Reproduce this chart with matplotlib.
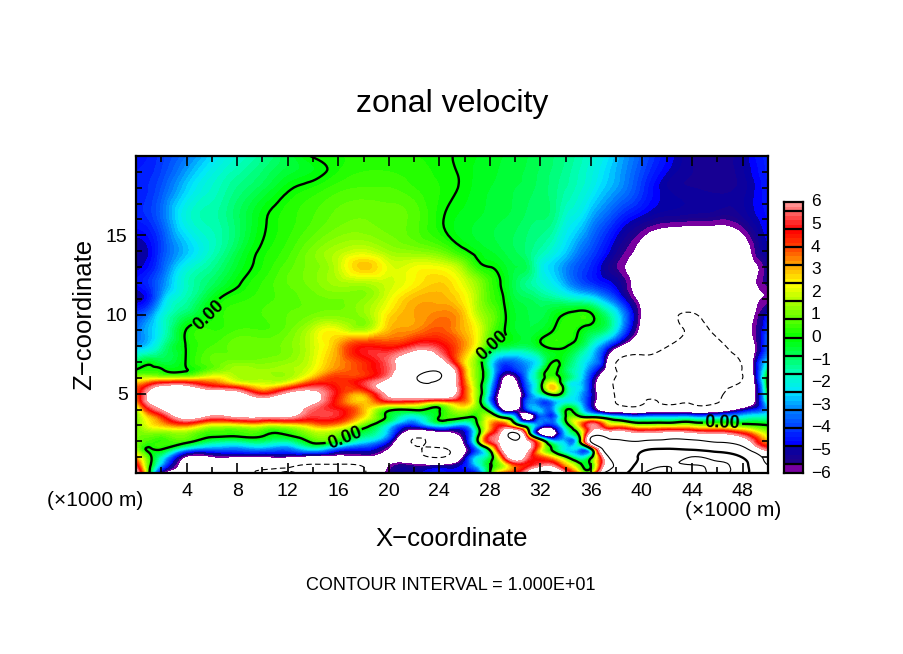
import matplotlib
matplotlib.use('Agg')
import matplotlib.pyplot as plt
import matplotlib.tri as mtri
from matplotlib.colors import LinearSegmentedColormap
import numpy as np

plt.rcParams['font.family'] = ['Liberation Sans', 'DejaVu Sans']

# x in km, z in km (grid is finer where the picture has fine detail)
x_km = [0, 1, 2, 4, 6, 8, 10, 12, 14, 16, 18, 20, 22, 24, 26, 27, 28, 29, 30, 31, 32, 33, 34, 35, 36, 37, 38, 40, 42, 44, 46, 48, 49, 50]
z_km = [0, .5, 1, 1.5, 2, 2.5, 3, 3.5, 4, 4.5, 5, 5.5, 6, 6.5, 7, 8, 9, 10, 11, 12, 13, 14, 16, 18, 19, 20]

# zonal velocity, one row per z, bottom to top
u = [
    [7, .5, -6, -7, -8, -9, -10.2, -9.8, -11, -11, -10.4, -5.5, -5, -4.5, -5, -4.5, 0, 3.5, 4.5, 7, 11, 10.2, 6, 3, 1.5, 10, 14, 29, 31, 27, 32, 23, 18, 13],
    [5, .6, -3, -6.6, -6.8, -8.5, -9, -9.5, -10.3, -10.3, -9.5, -6.1, -5.8, -6, -4.5, -2.5, -.2, 1.5, 4, 4.5, 5.5, 5.5, 3, .8, .15, 6, 11, 24, 29.5, 29.8, 31, 24, 15, 10],
    [3, .5, -1.7, -6.2, -6.1, -6.1, -6.1, -6.1, -6.8, -6.8, -6.5, -6.6, -8.5, -10.2, -5.5, -2.5, -.8, 4, 7.5, 5.5, 4, 2.5, .3, -2, -.4, 6.5, 14, 21, 25, 30.3, 27, 19.5, 13, 7.5],
    [1.5, -.1, .05, -2.8, -3.6, -3.6, -3.3, -3.6, -2.3, -4, -4.5, -6.2, -9.4, -10.5, -6.5, -3.5, .5, 6.5, 7.5, 6.5, 2.5, -.3, -2.4, -3, -.6, 11, 16, 18.5, 20.5, 19, 16, 12, 7.5, 5.5],
    [1.1, .5, .4, .4, -1, -1.3, -1, -1.4, .4, -.2, -2.3, -4.7, -10.3, -8.8, -5.6, -.3, 5, 6.8, 9.5, 6.5, 2, -2.5, -3, -1.2, 10.5, 12.5, 11, 10.3, 11.5, 10.8, 9.6, 7.5, 5, 3],
    [1, 1.1, 1, 1.2, .4, .4, .3, .2, 1.4, 1, -.8, -3.1, -8, -7, -5, -1, 4, 7, 10.6, 1.8, -7, -7.5, -2.5, .2, 7, 8, 7.5, 6.2, 7, 6.5, 6, 4.5, 3, 1.5],
    [.9, 2.2, 2.8, 3.5, 1.9, 1.9, 2, 2, 3, 3, .7, -2.2, -4.5, -2.2, -3.2, -.2, 3, 4.5, 1.5, -1.5, -4, -4.5, -1, 2.5, 5.8, 4, 2.8, 1.3, 1.5, 1.6, 1.3, .6, .3, .05],
    [1, 2.7, 4, 6.8, 5.5, 6, 6, 6, 5, 4.8, 2.5, -.4, -2.4, .1, .1, .3, 2, 0, -2.8, -7.5, -3.8, -4, .05, .8, .3, -.5, -1.8, -2.8, -2.6, -2.6, -2.5, -2.1, -1.7, -1.6],
    [1.2, 4.5, 6, 8, 6.5, 7, 7.2, 7, 5.5, 4.8, 3, .3, .2, -.05, 1.8, .8, -1, -6.2, -6.6, -4, -2.8, -3.2, -.1, -1.4, -4.5, -7.5, -8.3, -8.5, -8.3, -8.3, -7.9, -5.5, -4.5, -3],
    [3, 6.2, 6.8, 8, 8, 7.5, 7, 7.5, 6.5, 4.2, 2.8, 4.5, 4.2, 3, 3.5, 1, -3.3, -7.5, -8, -3.5, -3.8, -3.2, -2.2, -2.6, -5, -8, -10.1, -10.2, -10.2, -10.2, -10.1, -8, -6, -1.5],
    [3.5, 6.3, 7.2, 7.5, 7.5, 7, 4.6, 6.5, 6.5, 4.5, 3.3, 6.5, 8.5, 9, 4, 1.2, -3, -7.5, -8, -4, -1.5, .8, -1.2, -2.6, -4.8, -7.8, -10.3, -10.8, -11, -11, -10.6, -7.5, -6, -.5],
    [3.5, 4.8, 6.1, 6.2, 4.6, 3.5, 2.3, 3.2, 5, 4.4, 5, 7, 9, 9.4, 3.9, 1, -2.5, -6.6, -7, -3.5, -.5, 2.8, -1.2, -2.4, -4.8, -8, -10.5, -11, -11.5, -11.5, -11, -9, -6, .1],
    [1.5, 1.8, 1.7, 1.8, 2.5, 1.6, 1.5, 1.5, 3, 4.2, 4.4, 6, 9.6, 10.2, 3.5, 1, -1.8, -6, -6, -3, -.7, .6, -.7, -2, -4.5, -7.5, -10.2, -11, -11.5, -11.5, -11, -10, -5.5, .1],
    [.05, .3, .1, -.02, .9, 1.5, 1.4, 1.5, 2.2, 3.5, 4.2, 5.5, 8, 9.5, 3.2, 1, -1.7, -4.5, -4.3, -3, -1, .3, -.9, -1.9, -3.7, -6, -10, -11, -11.5, -11.5, -11, -9.8, -5.4, -1],
    [-1, -.3, -.6, .05, .8, 1.1, 1.1, 1.3, 2, 3.3, 4.3, 5.6, 7.3, 7.2, 2.6, .9, -1.9, -3.8, -3.6, -2.9, -1.8, .05, -.6, -1.7, -2.9, -5, -10, -11, -11.5, -11.5, -11, -9.5, -5.3, -2.3],
    [-3, -2.5, -1.5, .05, .6, .9, .9, 1.1, 1.9, 3.2, 4.6, 4.4, 5.2, 5, 3.3, 2, .1, -.5, -.8, -.8, -.2, .2, .05, -.6, -1.9, -3.5, -5.6, -8, -9.9, -11, -10.7, -8, -6, -3.5],
    [-3.5, -2.8, -2, .05, .4, .6, .6, .9, 1.8, 2.2, 1.6, 3, 3.4, 3.9, 3, 2.2, .9, .1, -.4, -.6, -.4, 0, .3, .02, -.5, -1, -2.4, -6.5, -8.7, -10.4, -9.3, -6.8, -5.7, -3.8],
    [-4, -3.4, -2.2, -.9, .1, .5, .6, .8, 1, 1.1, 1.3, 2.6, 3.2, 3.5, 2.8, 1.7, 1, .2, -.4, -.6, -.7, -.3, .06, .3, .1, -.9, -2.2, -6.2, -9, -10.2, -8, -6.4, -6, -4.5],
    [-5, -4.5, -3, -1.5, -.3, .3, .5, .7, .9, 1, 1.2, 2.1, 3, 3.1, 2.4, 1.5, .6, .05, -.6, -.8, -1.1, -1.3, -1.6, -1.9, -2.2, -3, -4, -6.5, -7.5, -8, -7.5, -6.8, -6.2, -5.9],
    [-4.6, -4.2, -3.4, -1.7, -.9, -.1, .4, .8, 1.1, 1.5, 1.6, 1.9, 2.4, 2.8, 2, 1.3, .5, -.1, -.8, -1.3, -1.8, -2.3, -3, -3.7, -4.2, -4.6, -5, -7, -8, -8, -8, -7, -6.1, -5.4],
    [-4.9, -4.6, -3.8, -2.1, -1.3, -.4, .2, .7, 1.1, 1.8, 2.9, 2.1, 2.2, 2.2, 1.2, .3, 0, -.3, -.6, -.9, -2, -2.6, -3.2, -3.8, -4.3, -5, -5.6, -7, -8, -8, -8, -6.8, -6.2, -5.2],
    [-5, -4.8, -4, -2.7, -1.7, -.7, .1, .5, 1.1, 1.6, 1.9, 1.4, 1.2, .9, .1, -.2, -.4, -.6, -.8, -1.1, -1.5, -2, -2.6, -3.3, -3.9, -4.5, -5.2, -6.5, -8, -8, -8, -7, -5.6, -4.9],
    [-4.4, -4.2, -3.6, -2, -1.5, -.9, -.1, .3, .6, .9, 1, .9, .7, .1, -.3, -.4, -.5, -.6, -.7, -.9, -1, -1.2, -1.9, -2.3, -3, -3.6, -4.2, -5, -5.4, -5.5, -5.6, -5.3, -4.9, -4.6],
    [-4.4, -4.2, -3.8, -2.6, -1.8, -1.2, -.7, -.1, .2, .5, .6, .6, .4, .2, -.1, -.3, -.4, -.5, -.6, -.7, -.9, -1.1, -1.4, -1.7, -2.1, -2.6, -3, -4.1, -5, -5.2, -5.3, -5.1, -4.8, -4.4],
    [-4.4, -4.3, -4, -3, -2.1, -1.5, -1, -.5, -.2, .2, .4, .4, .3, .15, -.1, -.25, -.35, -.45, -.55, -.65, -.85, -1.05, -1.3, -1.6, -1.95, -2.4, -2.85, -3.9, -4.8, -5.2, -5.35, -5.05, -4.7, -4.35],
    [-4.5, -4.4, -4.1, -3.4, -2.5, -1.8, -1.3, -.6, .05, .2, .2, .2, .2, .1, -.1, -.2, -.3, -.4, -.5, -.6, -.8, -1, -1.2, -1.5, -1.8, -2.2, -2.7, -3.7, -4.6, -5.2, -5.4, -5, -4.6, -4.3],
]

color_values = [-6, -5.6, -5.5, -4.8, -4.7, -4, -3.2, -2.4, -1.6, -.8, 0, .8, 1.6, 2.4, 3.2, 4, 4.8, 5.6, 6]
color_list = ['#7800a0', '#7800a0', '#1e008c', '#0000aa', '#0000ff', '#003cff', '#0082ff', '#00e6ff', '#00ffbe', '#00ff5a', '#00ff00', '#5aff00',
              '#aaff00', '#ffff00', '#ffaa00', '#ff4600', '#ff0000', '#ff6464', '#ff9696']

x_ticks = [4, 8, 12, 16, 20, 24, 28, 32, 36, 40, 44, 48]
z_ticks = [5, 10, 15]
bar_labels = ['6', '5', '4', '3', '2', '1', '0', '−1', '−2', '−3', '−4', '−5', '−6']

W, H = 904, 654
cmap = LinearSegmentedColormap.from_list('zonal', [((v + 6) / 12, c) for v, c in zip(color_values, color_list)], N=240)
levels = np.linspace(-6, 6, 61)

fig = plt.figure(figsize=(W / 100, H / 100), dpi=100)
ax = fig.add_axes([136 / W, 1 - 473 / H, 632 / W, 317 / H])

# matplotlib's own cubic refiner rounds the contours off
X, Z = np.meshgrid(x_km, z_km)
tri = mtri.Triangulation(X.ravel(), Z.ravel())
tri_fine, u_fine = mtri.UniformTriRefiner(tri).refine_field(np.array(u).ravel(), subdiv=3)

ax.tricontourf(tri_fine, u_fine, levels=levels, cmap=cmap, antialiased=False)

# dashed = negative, every second positive level heavier
ax.tricontour(tri_fine, u_fine, levels=[-10], colors='k', linewidths=.8, linestyles=[(0, (5, 3))])
ax.tricontour(tri_fine, u_fine, levels=[10, 30], colors='k', linewidths=.8, linestyles='solid')
ax.tricontour(tri_fine, u_fine, levels=[20], colors='k', linewidths=1.7, linestyles='solid')
cs = ax.tricontour(tri_fine, u_fine, levels=[0], colors='k', linewidths=1.7, linestyles='solid')
labels = ax.clabel(cs, fmt='%.2f', fontsize=13, inline=True, inline_spacing=2,
                   manual=[(5.5, 10.1), (16.5, 2.2), (28.2, 8), (46.4, 3.2)])
for t in labels:
    t.set_fontweight('bold')

ax.set_xlim(0, 50)
ax.set_ylim(0, 20)
ax.set_xticks(x_ticks)
ax.set_xticks(range(2, 50, 4), minor=True)
ax.set_yticks(z_ticks)
ax.set_yticks(range(1, 20), minor=True)
ax.tick_params(which='both', direction='in', top=True, right=True, width=1.2, labelsize=14)
ax.tick_params(which='major', length=7)
ax.tick_params(which='minor', length=4)
ax.tick_params(axis='x', pad=7)
ax.tick_params(axis='y', pad=6)
for s in ax.spines.values():
    s.set_linewidth(1.6)

# colour bar with boxes every 0.8
cax = fig.add_axes([784 / W, 1 - 473 / H, 19 / W, 271 / H])
bar_z = np.linspace(-6, 6, 241)
cax.contourf([0, 1], bar_z, np.column_stack([bar_z, bar_z]), levels=levels, cmap=cmap, antialiased=False)
cax.hlines(np.arange(-5.6, 5.7, .8), 0, 1, colors='k', linewidth=1.6)
cax.set_xticks([])
cax.set_yticks([])
for s in cax.spines.values():
    s.set_linewidth(1.6)
for v, label in zip(range(6, -7, -1), bar_labels):
    fig.text(811 / W, 1 - (202 + (6 - v) * 271 / 12) / H, label, ha='left', va='center', fontsize=12.5)

fig.text(452 / W, 1 - 104 / H, 'zonal velocity', ha='center', va='center', fontsize=23)
fig.text(452 / W, 1 - 539 / H, 'X\u2212coordinate', ha='center', va='center', fontsize=18.5)
fig.text(84 / W, 1 - 314 / H, 'Z\u2212coordinate', ha='center', va='center', fontsize=18.5, rotation=90)
fig.text(451 / W, 1 - 586 / H, 'CONTOUR INTERVAL = 1.000E+01', ha='center', va='center', fontsize=13)
fig.text(95 / W, 1 - 500 / H, '(×1000 m)', ha='center', va='center', fontsize=15)
fig.text(733 / W, 1 - 511 / H, '(×1000 m)', ha='center', va='center', fontsize=15)

fig.savefig('out.png', dpi=100)
